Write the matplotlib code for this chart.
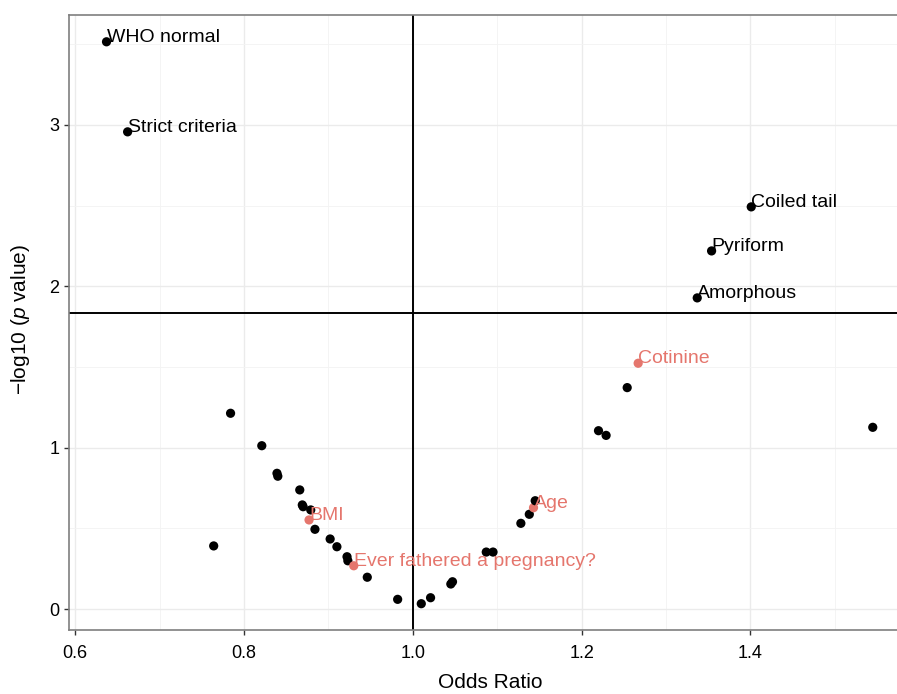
import matplotlib
matplotlib.use("Agg")
import matplotlib.pyplot as plt
from matplotlib.ticker import MultipleLocator

plt.rcParams['font.family'] = ['Liberation Sans', 'DejaVu Sans']
plt.rcParams['mathtext.fontset'] = 'custom'
plt.rcParams['mathtext.rm'] = 'Liberation Sans'
plt.rcParams['mathtext.it'] = 'Liberation Sans:italic'

# ---- data ----
odds_ratio = [0.637, 0.662, 1.401, 1.354, 1.337, 1.267, 1.254, 1.220, 1.229, 1.545,
              0.784, 0.821, 0.839, 0.840, 0.866, 0.869, 0.870, 0.879, 0.877, 0.884,
              0.902, 0.910, 0.922, 0.923, 0.930, 0.946, 0.764, 0.982, 1.010, 1.021,
              1.045, 1.047, 1.087, 1.095, 1.128, 1.138, 1.143, 1.145]
neg_log10_p = [3.515, 2.957, 2.492, 2.219, 1.928, 1.523, 1.372, 1.105, 1.076, 1.126,
               1.213, 1.012, 0.841, 0.823, 0.738, 0.645, 0.634, 0.614, 0.552, 0.494,
               0.434, 0.386, 0.324, 0.299, 0.268, 0.197, 0.391, 0.060, 0.033, 0.070,
               0.155, 0.169, 0.353, 0.353, 0.531, 0.587, 0.628, 0.671]
labels = ["WHO normal", "Strict criteria", "Coiled tail", "Pyriform", "Amorphous",
          "Cotinine", "", "", "", "",
          "", "", "", "", "", "", "", "", "BMI", "",
          "", "", "", "", "Ever fathered a pregnancy?", "", "", "", "", "",
          "", "", "", "", "", "", "Age", ""]
covariate = [False, False, False, False, False, True, False, False, False, False,
             False, False, False, False, False, False, False, False, True, False,
             False, False, False, False, True, False, False, False, False, False,
             False, False, False, False, False, False, True, False]
threshold = 1.835
null_or = 1.0

x_ticks = [0.6, 0.8, 1.0, 1.2, 1.4]
x_tick_labels = ["0.6", "0.8", "1.0", "1.2", "1.4"]
y_ticks = [0, 1, 2, 3]

BLACK = "#000000"
RED = "#E5766D"

fig = plt.figure(figsize=(8.97, 6.94), dpi=100)
ax = fig.add_axes([69.3 / 897, 64 / 694, (912 - 69.3) / 897, 615 / 694])
ax.set_xlim(0.5929, 1.5915)
ax.set_ylim(-0.13, 3.681)

ax.set_xticks(x_ticks)
ax.set_xticklabels(x_tick_labels)
ax.set_yticks(y_ticks)
ax.xaxis.set_minor_locator(MultipleLocator(0.1))
ax.yaxis.set_minor_locator(MultipleLocator(0.5))
ax.grid(which='major', color='#EBEBEB', linewidth=1.0)
ax.grid(which='minor', color='#F3F3F3', linewidth=0.6)
ax.set_axisbelow(True)
ax.tick_params(which='minor', length=0)
ax.tick_params(which='major', length=3.5, width=1, color='#333333',
               labelsize=13, labelcolor='#000000')
ax.tick_params(axis='x', pad=7)
ax.tick_params(axis='y', pad=3.5)
for sp in ax.spines.values():
    sp.set_color('#7F7F7F')
    sp.set_linewidth(1.2)

ax.axvline(null_or, color='black', linewidth=1.4, zorder=2)
ax.axhline(threshold, color='black', linewidth=1.4, zorder=2)

colors = [RED if c else BLACK for c in covariate]
ax.scatter(odds_ratio, neg_log10_p, s=44, c=colors, linewidths=0, zorder=3)

for xv, yv, lab, c in zip(odds_ratio, neg_log10_p, labels, covariate):
    if lab:
        ax.text(xv, yv, lab, ha='left', va='baseline', fontsize=14,
                color=RED if c else BLACK, zorder=4)

ax.set_xlabel("Odds Ratio", fontsize=15, va='baseline')
ax.set_ylabel("\u2212log10 ($\\mathit{p}$ value)", fontsize=15)
ax.xaxis.set_label_coords((490 - 69.3) / (912 - 69.3), (630 - 688) / 615)
ax.yaxis.set_label_coords(-(69.3 - 32) / (912 - 69.3), (630 - 320) / 615)

fig.savefig("out.png", dpi=100)
